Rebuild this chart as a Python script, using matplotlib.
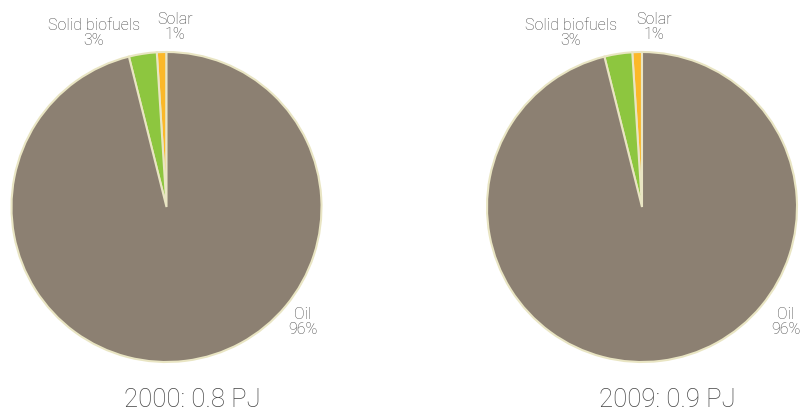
import matplotlib
matplotlib.use("Agg")
import matplotlib.pyplot as plt

plt.rcParams['font.family'] = ['Roboto', 'DejaVu Sans']

sources = ["Solar", "Solid biofuels", "Oil"]
shares_2000 = [1.0, 2.9, 96.1]
shares_2009 = [1.0, 2.9, 96.1]
pct_labels = ["1%", "3%", "96%"]
titles = ["2000: 0.8 PJ", "2009: 0.9 PJ"]
colors = ["#fbb829", "#8dc63f", "#8c8072"]
edge = "#e9e5c3"
text_color = "#444444"

W, H = 808, 417
R = 155
fig = plt.figure(figsize=(W / 100, H / 100), dpi=100)

def pie_axes(cx, cy, r):
    return fig.add_axes([(cx - r) / W, (H - cy - r) / H, 2 * r / W, 2 * r / H])

# label anchors in pie-radius units: solar, solid biofuels, oil
panels = [
    (166.5, 207, shares_2000, titles[0],
     [(0.055, 1.16), (-0.47, 1.125), (0.88, -0.74)]),
    (642, 207, shares_2009, titles[1],
     [(0.075, 1.16), (-0.46, 1.125), (0.93, -0.74)]),
]

for cx, cy, shares, title, label_pos in panels:
    ax = pie_axes(cx, cy, R)
    ax.pie(shares, colors=colors, startangle=90, counterclock=True,
           wedgeprops=dict(edgecolor=edge, linewidth=1.5))
    ax.set_xlim(-1, 1)
    ax.set_ylim(-1, 1)
    ax.set_aspect('equal')
    ax.axis('off')
    for i, (x, y) in enumerate(label_pos):
        ax.text(x, y, f"{sources[i]}\n{pct_labels[i]}", ha='center', va='center',
                fontsize=11.5, fontweight='light', color=text_color,
                linespacing=1.0, clip_on=False)
    ax.text(0.165, -1.245, title, ha='center', va='center', fontsize=18.5,
            fontweight='light', color=text_color, clip_on=False)

fig.savefig("out.png", dpi=100)
